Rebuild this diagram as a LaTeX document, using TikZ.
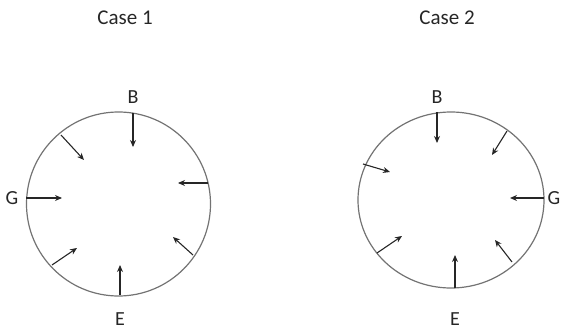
\documentclass[tikz,border=0pt]{standalone}
\usepackage{fontspec}
\setmainfont{Carlito}
\usetikzlibrary{arrows.meta}
\begin{document}
\begin{tikzpicture}[x=1pt,y=-1pt,
  ring/.style={draw=black!55,line width=1.2pt},
  force/.style={draw=black!85,line width=1.1pt,-{Stealth[length=7pt,width=6pt]}},
  lbl/.style={font=\fontsize{20}{22}\selectfont,text=black!85,inner sep=0pt},
  ttl/.style={font=\fontsize{21}{23}\selectfont,text=black!85,inner sep=0pt}]
\useasboundingbox (0,0) rectangle (564,331);
% Case 1
\node[ttl] (t1) at (125,18) {Case 1};
\draw[ring] (118.5,204) circle (92);
\coordinate (a1) at (133,113); \coordinate (a1e) at (133,147);
\coordinate (b1) at (61,135);  \coordinate (b1e) at (84,160);
\coordinate (c1) at (208,183); \coordinate (c1e) at (178,183);
\coordinate (d1) at (26,198);  \coordinate (d1e) at (62,198);
\coordinate (f1) at (52,265);  \coordinate (f1e) at (77,248);
\coordinate (g1) at (120,295); \coordinate (g1e) at (120,265);
\coordinate (h1) at (193,255); \coordinate (h1e) at (173,237);
\foreach \p in {a1,b1,c1,d1,f1,g1,h1} \draw[force] (\p) -- (\p e);
\node[lbl] (B1) at (133,97) {B};
\node[lbl] (G1) at (12,198) {G};
\node[lbl] (E1) at (120,319) {E};
% Case 2
\node[ttl] (t2) at (447,18) {Case 2};
\draw[ring] (451,200) ellipse (93 and 88);
\coordinate (a2) at (437,112); \coordinate (a2e) at (437,143);
\coordinate (b2) at (507,131); \coordinate (b2e) at (492,155);
\coordinate (c2) at (363,164); \coordinate (c2e) at (390,172);
\coordinate (d2) at (544,198); \coordinate (d2e) at (510,198);
\coordinate (f2) at (377,253); \coordinate (f2e) at (402,236);
\coordinate (g2) at (455,288); \coordinate (g2e) at (455,255);
\coordinate (h2) at (512,262); \coordinate (h2e) at (495,240);
\foreach \p in {a2,b2,c2,d2,f2,g2,h2} \draw[force] (\p) -- (\p e);
\node[lbl] (B2) at (437,97) {B};
\node[lbl] (G2) at (554,198) {G};
\node[lbl] (E2) at (455,319) {E};
\end{tikzpicture}
\end{document}
